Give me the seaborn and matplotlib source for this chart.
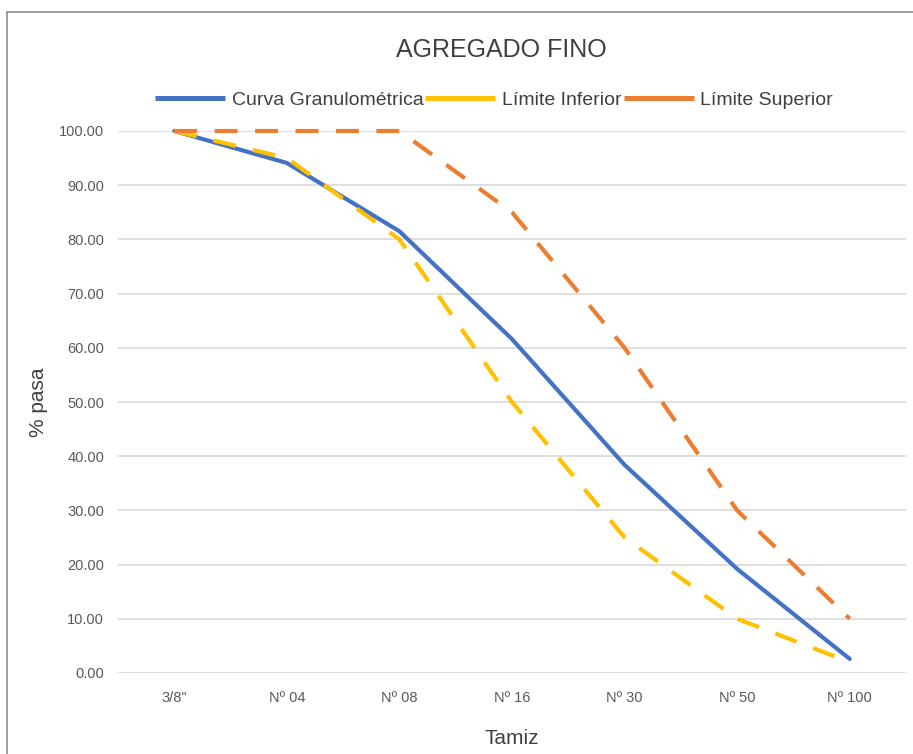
import matplotlib
matplotlib.use("Agg")
import matplotlib.pyplot as plt
from matplotlib.patches import Rectangle
from matplotlib.lines import Line2D
import seaborn as sns
import pandas as pd

tamiz = ['3/8"', "Nº 04", "Nº 08", "Nº 16", "Nº 30", "Nº 50", "Nº 100"]
curva = [100.0, 94.1, 81.5, 61.6, 38.4, 19.2, 2.6]
lim_inf = [100, 95, 80, 50, 25, 10, 2]
lim_sup = [100, 100, 100, 85, 60, 30, 10]

series = ["Curva Granulométrica", "Límite Inferior", "Límite Superior"]
colors = ["#4472C4", "#FFC000", "#ED7D31"]

df = pd.concat([
    pd.DataFrame({"Tamiz": tamiz, "pasa": vals, "serie": name})
    for name, vals in zip(series, [curva, lim_inf, lim_sup])
])

sns.set_theme(style="white")
plt.rcParams["font.family"] = ["Liberation Sans", "DejaVu Sans"]

fig = plt.figure(figsize=(9.13, 7.54), dpi=100)
ax = fig.add_axes([118 / 913, 1 - 673 / 754, (906 - 118) / 913, (673 - 131) / 754])

# limit curves first, then the gradation curve
order = [1, 2, 0]
for i in order:
    sub = df[df["serie"] == series[i]]
    sns.lineplot(data=sub, x="Tamiz", y="pasa", ax=ax, color=colors[i],
                 linewidth=3.0, sort=False, legend=False)
lines = ax.get_lines()
for ln, i in zip(lines, order):
    ln.set_clip_on(False)
    ln.set_solid_joinstyle("round")
    if i != 0:
        ln.set_dashes((5.5, 4.2))
        ln.set_dash_capstyle("butt")
    ln.set_zorder(3 if i != 0 else 2)

ax.set_ylim(0, 100)
ax.set_xlim(-0.5, len(tamiz) - 0.5)
ax.set_yticks(range(0, 101, 10))
ax.set_yticklabels([f"{v:.2f}" for v in range(0, 101, 10)])
ax.yaxis.grid(True, color="#D9D9D9", linewidth=1.2)
ax.xaxis.grid(False)
ax.set_axisbelow(True)
for s in ax.spines.values():
    s.set_visible(False)
ax.tick_params(axis="both", colors="#595959", labelsize=10.5, length=0)
ax.tick_params(axis="y", pad=10)
ax.tick_params(axis="x", pad=13)

ax.set_xlabel("Tamiz", fontsize=15, color="#404040", va="center")
ax.set_ylabel("% pasa", fontsize=15, color="#404040", va="center")
ax.xaxis.set_label_coords(0.5, (673 - 738) / 542)
ax.yaxis.set_label_coords((38 - 118) / 788, 0.5)

fig.text(501 / 913, 1 - 50 / 754, "AGREGADO FINO", ha="center", va="center",
         fontsize=18, color="#404040")

handles = [Line2D([0], [0], color=c, linewidth=3.6, solid_capstyle="butt") for c in colors]
fig.legend(handles, series, loc="center", bbox_to_anchor=(494 / 913, 1 - 100 / 754),
           ncol=3, frameon=False, handlelength=3.6, handletextpad=0.35,
           columnspacing=0.1, fontsize=14, labelcolor="#404040")

fig.patches.append(Rectangle((7 / 913, -0.01), 1.0, 1 - 12 / 754 + 0.01,
                             transform=fig.transFigure, fill=False,
                             edgecolor="#8C8C8C", linewidth=1.2))

fig.savefig("out.png", dpi=100, facecolor="white")
